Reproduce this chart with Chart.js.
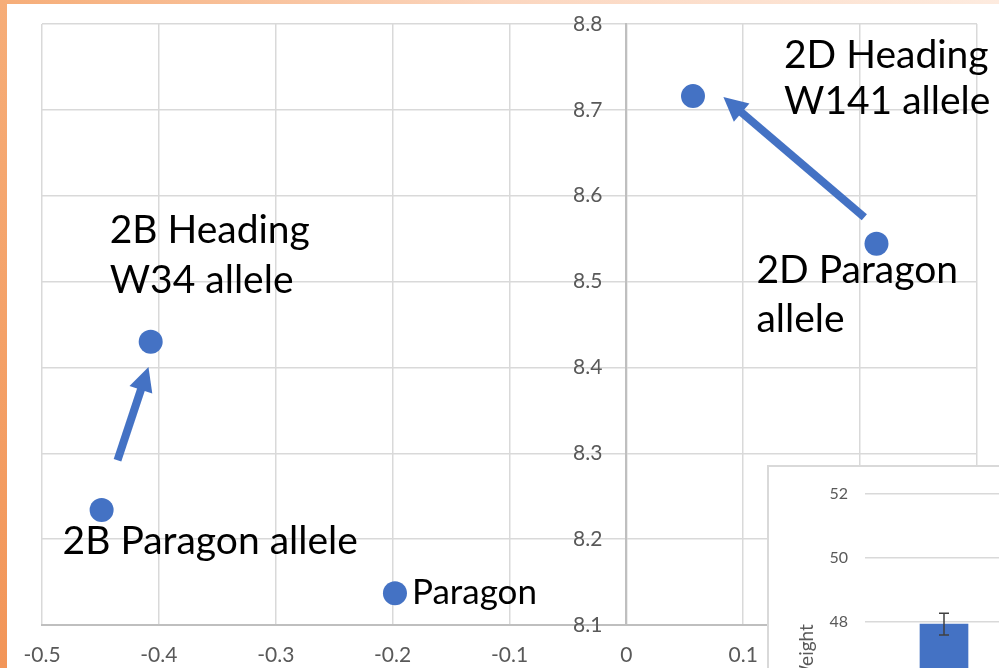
<!DOCTYPE html>
<html>
<head>
<meta charset="utf-8">
<script src="https://cdn.jsdelivr.net/npm/chart.js@4.4.1/dist/chart.umd.min.js"></script>
<style>
  html, body { margin: 0; padding: 0; }
  body {
    width: 999px; height: 668px; overflow: hidden; position: relative;
    background: linear-gradient(to top right, #F29558 0%, #F6AD78 50%, #FBD6BF 75%, #FDEBDF 100%);
  }
  #panel { position: absolute; left: 7px; top: 4px; right: 0; bottom: 0; background: #fff; }
  #main { position: absolute; left: 0; top: 0; }
  #inset {
    position: absolute; left: 767px; top: 465px; width: 300px; height: 400px;
    border: 2px solid #D9D9D9; background: #fff;
  }
  #inset canvas { position: absolute; left: 0; top: 0; }
</style>
</head>
<body>
<div id="panel"></div>
<canvas id="main" width="999" height="668"></canvas>
<div id="inset"><canvas id="weight" width="300" height="400"></canvas></div>
<script>
// ---- Scatter: lines and allele effects ----
const lineNames = ['Paragon', '2B Paragon allele', '2B Heading W34 allele', '2D Paragon allele', '2D Heading W141 allele'];
const xValues = [-0.198, -0.449, -0.407, 0.214, 0.057];
const yValues = [8.137, 8.234, 8.430, 8.544, 8.716];
const labelLines = [['Paragon'], ['2B Paragon allele'], ['2B Heading', 'W34 allele'], ['2D Paragon', 'allele'], ['2D Heading', 'W141 allele']];
const xTicks = [-0.5, -0.4, -0.3, -0.2, -0.1, 0, 0.1, 0.2, 0.3];
const yTicks = [8.1, 8.2, 8.3, 8.4, 8.5, 8.6, 8.7, 8.8];

// Arrows from the Paragon allele towards the Heading allele
const arrowFromX = [-0.4354, 0.2036];
const arrowFromY = [8.292, 8.575];
const arrowToX = [-0.4089, 0.083];
const arrowToY = [8.4005, 8.715];

// ---- Inset bar chart: weight ----
const weightCategories = ['Paragon'];
const weightValues = [47.94];
const weightErrors = [0.34];
const weightTicks = [42, 44, 46, 48, 50, 52];

// Label placement relative to each point (pixels): text left, first baseline, font size, line step
const labelStyle = [
  { dx: 17, dy: 11, size: 35, lead: 0 },
  { dx: -39, dy: 44, size: 39, lead: 0 },
  { dx: -41, dy: -99, size: 39, lead: 50 },
  { dx: -120, dy: 39, size: 39, lead: 49 },
  { dx: 91, dy: -28, size: 39, lead: 46 }
];

const BLUE = '#4472C4';
const TICK_COLOR = '#595959';
const FONT = 'Lato';

function drawArrow(ctx, x1, y1, x2, y2) {
  const ang = Math.atan2(y2 - y1, x2 - x1);
  const headLen = 24, headHalf = 12;
  const bx = x2 - headLen * Math.cos(ang), by = y2 - headLen * Math.sin(ang);
  ctx.save();
  ctx.strokeStyle = BLUE; ctx.fillStyle = BLUE;
  ctx.lineWidth = 8; ctx.lineCap = 'butt';
  ctx.beginPath(); ctx.moveTo(x1, y1); ctx.lineTo(bx + 2 * Math.cos(ang), by + 2 * Math.sin(ang)); ctx.stroke();
  ctx.beginPath();
  ctx.moveTo(x2, y2);
  ctx.lineTo(bx + headHalf * Math.sin(ang), by - headHalf * Math.cos(ang));
  ctx.lineTo(bx - headHalf * Math.sin(ang), by + headHalf * Math.cos(ang));
  ctx.closePath(); ctx.fill();
  ctx.restore();
}

const annotations = {
  id: 'annotations',
  afterDatasetsDraw(chart) {
    const { ctx, scales: { x, y } } = chart;
    for (let i = 0; i < arrowFromX.length; i++) {
      drawArrow(ctx, x.getPixelForValue(arrowFromX[i]), y.getPixelForValue(arrowFromY[i]),
                x.getPixelForValue(arrowToX[i]), y.getPixelForValue(arrowToY[i]));
    }
    ctx.save();
    ctx.fillStyle = '#000';
    ctx.textAlign = 'left';
    ctx.textBaseline = 'alphabetic';
    for (let i = 0; i < xValues.length; i++) {
      const px = x.getPixelForValue(xValues[i]);
      const py = y.getPixelForValue(yValues[i]);
      const st = labelStyle[i];
      ctx.font = st.size + 'px ' + FONT;
      labelLines[i].forEach((line, k) => {
        ctx.fillText(line, px + st.dx, py + st.dy + k * st.lead);
      });
    }
    ctx.restore();
  },
  // value labels of the vertical axis, which crosses at x = 0
  afterDraw(chart) {
    const { ctx, scales: { x, y } } = chart;
    const ax = x.getPixelForValue(0);
    ctx.save();
    ctx.fillStyle = TICK_COLOR;
    ctx.font = '21px ' + FONT;
    ctx.textAlign = 'right';
    ctx.textBaseline = 'middle';
    yTicks.forEach(v => ctx.fillText(String(v), ax - 24, y.getPixelForValue(v)));
    ctx.restore();
  }
};

new Chart(document.getElementById('main'), {
  type: 'scatter',
  data: {
    datasets: [{
      label: 'Lines',
      data: xValues.map((v, i) => ({ x: v, y: yValues[i] })),
      backgroundColor: BLUE,
      borderColor: BLUE,
      borderWidth: 0,
      pointRadius: 12,
      pointHoverRadius: 12
    }]
  },
  options: {
    responsive: false,
    animation: false,
    events: [],
    layout: { padding: { left: 42, top: 24, right: 22, bottom: 0 } },
    plugins: { legend: { display: false }, tooltip: { enabled: false } },
    scales: {
      x: {
        type: 'linear', min: -0.5, max: 0.3,
        afterBuildTicks: s => { s.ticks = xTicks.map(v => ({ value: v })); },
        afterFit: s => { s.height = 43; },
        ticks: { callback: v => String(v), color: TICK_COLOR, font: { family: FONT, size: 21, lineHeight: 2.6 }, padding: 3, maxRotation: 0, autoSkip: false },
        grid: { color: '#D9D9D9', lineWidth: 1.5, drawTicks: false },
        border: { display: true, color: '#BFBFBF', width: 2 }
      },
      y: {
        type: 'linear', min: 8.1, max: 8.8,
        position: { x: 0 },
        afterBuildTicks: s => { s.ticks = yTicks.map(v => ({ value: v })); },
        ticks: { display: false },
        grid: { color: '#D9D9D9', lineWidth: 1.5, drawTicks: false },
        border: { display: true, color: '#BFBFBF', width: 2 }
      }
    }
  },
  plugins: [annotations]
});

// Error bars for the inset bars
const errorBars = {
  id: 'errorBars',
  afterDatasetsDraw(chart) {
    const { ctx, scales: { x, y } } = chart;
    ctx.save();
    ctx.strokeStyle = '#404040';
    ctx.lineWidth = 1.5;
    weightValues.forEach((v, i) => {
      const cx = x.getPixelForValue(i);
      const top = y.getPixelForValue(v + weightErrors[i]);
      const bot = y.getPixelForValue(v - weightErrors[i]);
      ctx.beginPath();
      ctx.moveTo(cx, top); ctx.lineTo(cx, bot);
      ctx.moveTo(cx - 5, top); ctx.lineTo(cx + 5, top);
      ctx.moveTo(cx - 5, bot); ctx.lineTo(cx + 5, bot);
      ctx.stroke();
    });
    ctx.restore();
  }
};

new Chart(document.getElementById('weight'), {
  type: 'bar',
  data: {
    labels: weightCategories,
    datasets: [{ label: 'Weight', data: weightValues, backgroundColor: BLUE, barThickness: 48 }]
  },
  options: {
    responsive: false,
    animation: false,
    events: [],
    layout: { padding: { left: 0, top: 23, right: 46, bottom: 0 } },
    plugins: { legend: { display: false }, tooltip: { enabled: false } },
    scales: {
      x: {
        afterFit: s => { s.height = 52; },
        ticks: { display: false },
        grid: { display: false },
        border: { display: true, color: '#D9D9D9' }
      },
      y: {
        min: 42, max: 52,
        afterBuildTicks: s => { s.ticks = weightTicks.map(v => ({ value: v })); },
        afterFit: s => { s.width = 96; },
        ticks: { color: TICK_COLOR, font: { family: FONT, size: 16 }, padding: 17 },
        grid: { color: '#D9D9D9', lineWidth: 1.5, drawTicks: false },
        border: { display: false },
        title: { display: true, text: 'Weight', color: TICK_COLOR, font: { family: FONT, size: 19 }, padding: { top: 26, bottom: 0 } }
      }
    }
  },
  plugins: [errorBars]
});
</script>
</body>
</html>
